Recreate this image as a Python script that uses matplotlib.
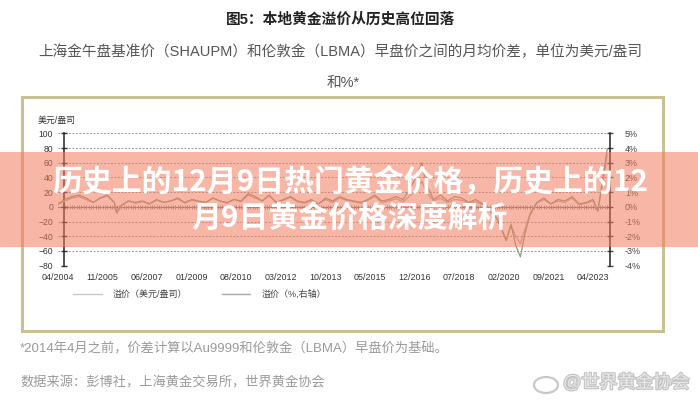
import numpy as np
import matplotlib
matplotlib.use('Agg')
import matplotlib.pyplot as plt
from matplotlib.patches import Rectangle, Ellipse
from matplotlib.lines import Line2D
import matplotlib.patheffects as pe

plt.rcParams['font.family'] = ['Liberation Sans', 'Noto Sans CJK SC', 'DejaVu Sans']

# month index, 0 = 04/2004
months = [0, 3, 6, 9, 12, 15, 18, 21, 24, 25, 27, 30, 33, 36, 39, 42, 45, 48, 51, 54,
          57, 60, 63, 66, 69, 72, 75, 78, 81, 84, 87, 90, 93, 96, 99, 102, 105, 108, 111, 114,
          117, 120, 123, 126, 129, 132, 135, 138, 141, 144, 147, 150, 153, 155, 157, 160, 163, 166, 169, 172,
          175, 178, 181, 184, 187, 189, 191, 193, 195, 197, 199, 201, 204, 207, 210, 213, 216, 219, 222, 225,
          228, 230, 232, 234]
premium_usd = [3, 8, 12, 14, 10, 6, 12, 15, 6, -9, 2, 8, 5, 7, 4, 9, 6, 8, 11, 5,
               9, 7, 6, 12, 8, 5, 10, 7, 16, 12, 8, 15, 6, 9, 13, 7, 5, 8, 4, 10,
               6, 12, 9, 7, 5, 9, 14, 6, 8, 11, 7, 15, 25, 35, 20, 8, 12, 6, 10, 9,
               5, 7, 3, -5, -15, -30, -45, -25, -40, -50, -30, -10, 5, 10, 4, 8, 6, 12, 3, 5,
               8, -5, 30, 70]
premium_pct = [0.2, 0.5, 0.7, 0.8, 0.6, 0.3, 0.6, 0.8, 0.3, -0.4, 0.1, 0.4, 0.3, 0.4, 0.2, 0.5, 0.3, 0.4, 0.6, 0.3,
               0.5, 0.4, 0.3, 0.6, 0.4, 0.3, 0.5, 0.4, 0.9, 0.7, 0.4, 0.8, 0.3, 0.5, 0.7, 0.4, 0.3, 0.5, 0.2, 0.6,
               0.4, 0.7, 0.5, 0.4, 0.3, 0.5, 0.8, 0.4, 0.5, 0.7, 0.5, 1.2, 2.2, 3.0, 1.5, 0.5, 0.8, 0.4, 0.7, 0.6,
               0.3, 0.5, 0.2, -0.3, -0.8, -1.5, -2.3, -1.2, -2.6, -3.4, -1.8, -0.6, 0.3, 0.6, 0.2, 0.5, 0.4, 0.7, 0.2, 0.3,
               0.5, -0.3, 1.8, 3.9]

tick_months = list(range(0, 229, 19))
tick_labels = ['04/2004', '11/2005', '06/2007', '01/2009', '08/2010', '03/2012', '10/2013',
               '05/2015', '12/2016', '07/2018', '02/2020', '09/2021', '04/2023']
left_ticks = list(range(-80, 101, 20))
right_ticks = list(range(-4, 6))

usd_col = '#b9b2a6'
pct_col = '#8aa07c'

W, H = 698, 400
fig = plt.figure(figsize=(W / 100, H / 100), dpi=100)

def fx(px):
    return px / W

def fy(py):
    return 1 - py / H

ax = fig.add_axes([fx(58), fy(265.7), fx(610) - fx(58), fy(133.3) - fy(265.7)])
ax.set_xlim(0, 235.2)
ax.set_ylim(-80, 100)
ax2 = ax.twinx()
ax2.set_ylim(-4, 5)

ax.plot(months, premium_usd, color=usd_col, lw=0.9, zorder=3)
ax2.plot(months, premium_pct, color=pct_col, lw=0.9, zorder=3)

for s in ['top', 'bottom', 'right']:
    ax.spines[s].set_visible(False)
for s in ['top', 'bottom', 'left']:
    ax2.spines[s].set_visible(False)
ax.spines['left'].set_position(('data', 2.6))
ax.spines['left'].set_color('#222')
ax.spines['left'].set_linewidth(1.1)
ax2.spines['right'].set_color('#222')
ax2.spines['right'].set_linewidth(1.1)

ax.set_yticks(left_ticks)
ax.tick_params(axis='y', direction='inout', length=5, width=1, pad=5.4, labelsize=6.2, colors='#333')
ax2.set_yticks(right_ticks)
ax2.set_yticklabels([f'{v}%' for v in right_ticks])
ax2.tick_params(axis='y', direction='inout', length=5, width=1, pad=8.3, labelsize=6.5, colors='#444')

ax.set_xticks(tick_months)
ax.set_xticklabels(tick_labels)
ax.tick_params(axis='x', length=0, pad=5, labelsize=6.4, colors='#333')

ax.yaxis.grid(True, ls=(0, (2, 1.6)), color='#9a9a9a', lw=0.7)
ax.set_axisbelow(True)

# zero line with monthly ticks
sec = ax.secondary_xaxis(80 / 180)
sec.set_xticks(np.arange(3, 236))
sec.tick_params(direction='inout', length=3, width=0.5, color='#777', labelbottom=False, labeltop=False)
sec.spines['bottom'].set_color('#666')
sec.spines['top'].set_color('#666')

fig.text(fx(57), fy(120), '美元/盎司', fontsize=6.4, color='#333', ha='center', va='center')

handles = [Line2D([], [], color='#c8c8c8', lw=1.0), Line2D([], [], color='#a8a8a8', lw=1.0)]
leg = fig.legend(handles, ['溢价（美元/盎司）', '溢价（%,右轴）'], loc='center left',
                 bbox_to_anchor=(fx(73), fy(294.3)), frameon=False, ncol=2, fontsize=6.5,
                 handlelength=3.2, handletextpad=1.2, columnspacing=3.8, borderpad=0, borderaxespad=0)
for t in leg.get_texts():
    t.set_color('#444')

# frame
fig.patches.append(Rectangle((fx(21.5), fy(331)), fx(663) - fx(21.5), (331 - 97) / H,
                             transform=fig.transFigure, fill=False, edgecolor='#c9c193', lw=2.2, zorder=1))

# headings
fig.text(fx(341), fy(20), '图5：本地黄金溢价从历史高位回落', fontsize=10.6, fontweight='bold',
         color='#222', ha='center', va='center')
fig.text(fx(340.5), fy(51.5), '上海金午盘基准价（SHAUPM）和伦敦金（LBMA）早盘价之间的月均价差，单位为美元/盎司',
         fontsize=10.5, color='#555', ha='center', va='center')
fig.text(fx(343), fy(83), '和%*', fontsize=10.5, color='#555', ha='center', va='center')

# notes
fig.text(fx(20), fy(349), '*2014年4月之前，价差计算以Au9999和伦敦金（LBMA）早盘价为基础。',
         fontsize=9.5, color='#9a9a9a', ha='left', va='center')
fig.text(fx(20), fy(383), '数据来源：彭博社，上海黄金交易所，世界黄金协会',
         fontsize=9.5, color='#9a9a9a', ha='left', va='center')

# watermark
fig.patches.append(Ellipse((fx(546), fy(385)), 24 / W, 16 / H, transform=fig.transFigure,
                           fill=False, edgecolor='#c8c8c8', lw=1.6, zorder=2))
fig.text(fx(563), fy(383), '@世界黄金协会', fontsize=13, color='#e8e8e8', ha='left', va='center',
         path_effects=[pe.withStroke(linewidth=1.6, foreground='#c2c2c2')])

# overlay banner
fig.patches.append(Rectangle((0, fy(246.7)), 1, (246.7 - 151.7) / H, transform=fig.transFigure,
                             facecolor='#f47a5e', alpha=0.55, lw=0, zorder=10))
fig.text(fx(350), fy(183), '历史上的12月9日热门黄金价格，历史上的12', fontsize=21.5, fontweight='bold',
         color='white', ha='center', va='center', family=['Noto Sans CJK SC'], zorder=11)
fig.text(fx(350), fy(219), '月9日黄金价格深度解析', fontsize=21.5, fontweight='bold',
         color='white', ha='center', va='center', family=['Noto Sans CJK SC'], zorder=11)

fig.savefig('out.png', dpi=100, facecolor='white')
